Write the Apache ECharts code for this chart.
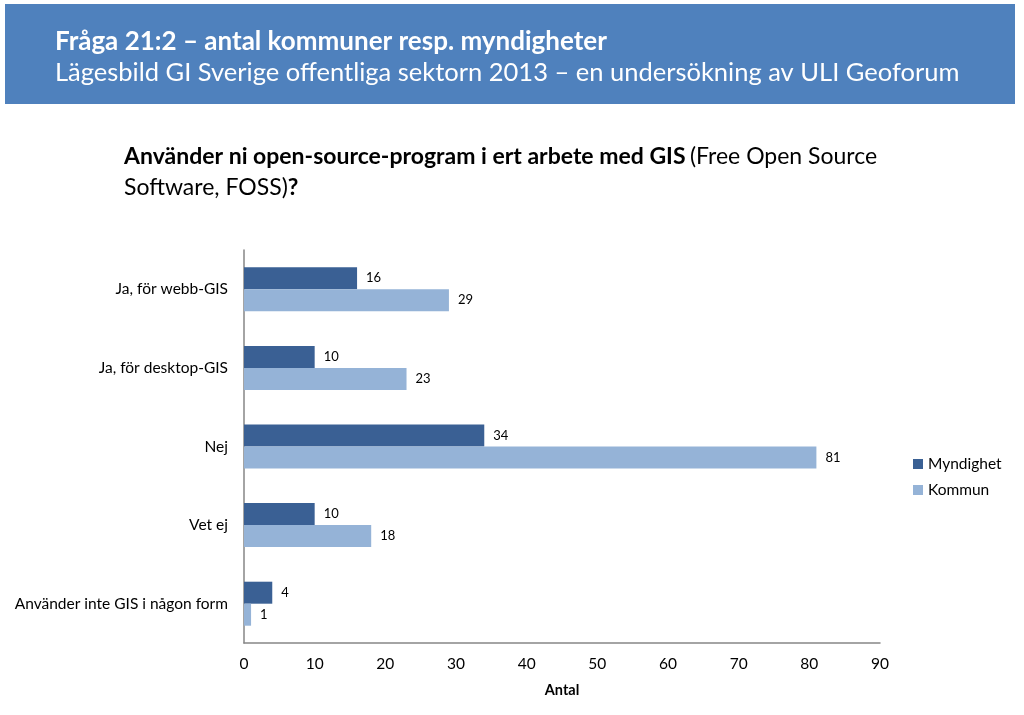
<!DOCTYPE html>
<html>
<head>
<meta charset="utf-8">
<script src="https://cdn.jsdelivr.net/npm/echarts@6/dist/echarts.min.js"></script>
<style>
html,body{margin:0;padding:0;background:#fff;}
#chart{width:1024px;height:715px;}
</style>
</head>
<body>
<div id="chart"></div>
<script>
const categories = ['Ja, för webb-GIS', 'Ja, för desktop-GIS', 'Nej', 'Vet ej', 'Använder inte GIS i någon form'];
const myndighet = [16, 10, 34, 10, 4];
const kommun = [29, 23, 81, 18, 1];
const seriesNames = ['Myndighet', 'Kommun'];
const xTicks = [0, 90, 10];

const FONT = 'Lato, "Open Sans", sans-serif';
const chart = echarts.init(document.getElementById('chart'));
chart.setOption({
  backgroundColor: '#ffffff',
  textStyle: { fontFamily: FONT },
  graphic: [
    { type: 'rect', shape: { x: 5, y: 4, width: 1010, height: 100 }, style: { fill: '#4f81bd' }, z: 0 }
  ],
  title: [
    { text: 'Fråga 21:2 – antal kommuner resp. myndigheter', left: 55, top: 29, padding: 0,
      textStyle: { color: '#fff', fontSize: 26, fontWeight: 'bold', fontFamily: FONT } },
    { text: 'Lägesbild GI Sverige offentliga sektorn 2013 – en undersökning av ULI Geoforum', left: 55, top: 60, padding: 0,
      textStyle: { color: '#fff', fontSize: 25.5, fontWeight: 'normal', fontFamily: FONT } },
    { text: '{b|Använder ni open-source-program i ert arbete med GIS} {n|(Free Open Source}\n{n|Software, FOSS)}{b|?}',
      left: 124, top: 141, padding: 0,
      textStyle: { rich: {
        b: { fontSize: 23, fontWeight: 'bold', color: '#000', fontFamily: FONT, lineHeight: 31 },
        n: { fontSize: 23, fontWeight: 'normal', color: '#000', fontFamily: FONT, lineHeight: 31 }
      } } }
  ],
  legend: {
    orient: 'vertical', left: 908, top: 451,
    itemWidth: 10, itemHeight: 10, itemGap: 10,
    icon: 'rect',
    textStyle: { fontSize: 15.5, color: '#000', fontFamily: FONT },
    data: seriesNames
  },
  grid: { left: 244, right: 144, top: 250, bottom: 72, containLabel: false },
  xAxis: {
    type: 'value', min: xTicks[0], max: xTicks[1], interval: xTicks[2],
    name: 'Antal', nameLocation: 'middle', nameGap: 40,
    nameTextStyle: { fontSize: 14.5, fontWeight: 'bold', color: '#000', fontFamily: FONT },
    axisLine: { show: true, lineStyle: { color: '#868686', width: 1.5 } },
    axisTick: { show: false },
    splitLine: { show: false },
    axisLabel: { fontSize: 15.5, color: '#000', margin: 13, fontFamily: FONT }
  },
  yAxis: {
    type: 'category', data: categories, inverse: true,
    axisLine: { show: true, lineStyle: { color: '#868686', width: 1.5 } },
    axisTick: { show: false },
    axisLabel: { fontSize: 15.5, color: '#000', margin: 16, fontFamily: FONT }
  },
  series: [
    { name: seriesNames[0], type: 'bar', data: myndighet, barWidth: 22, barGap: '0%',
      itemStyle: { color: '#3a6094' },
      label: { show: true, position: 'right', distance: 9, fontSize: 13, color: '#000', fontFamily: FONT } },
    { name: seriesNames[1], type: 'bar', data: kommun, barWidth: 22, barGap: '0%',
      itemStyle: { color: '#95b3d7' },
      label: { show: true, position: 'right', distance: 9, fontSize: 13, color: '#000', fontFamily: FONT } }
  ],
  animation: false
});
</script>
</body>
</html>
